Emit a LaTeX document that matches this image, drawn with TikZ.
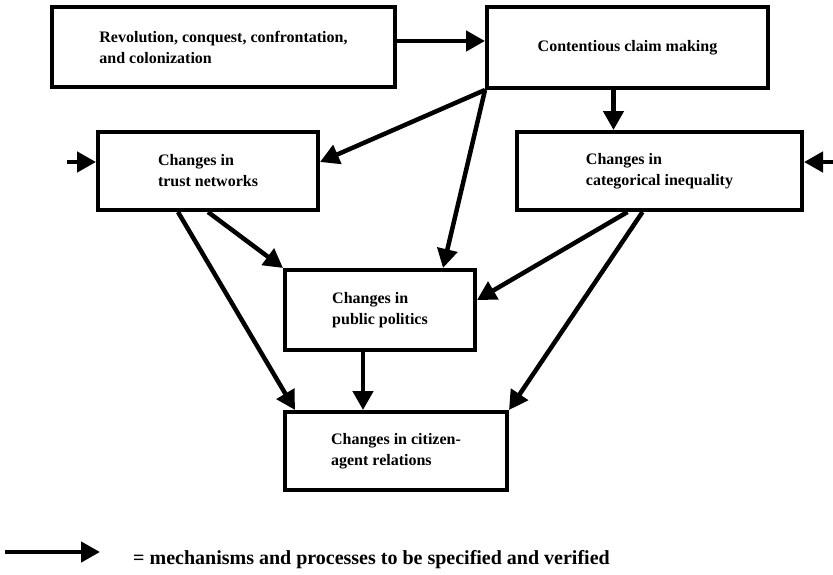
\documentclass[tikz,border=0pt]{standalone}
\usepackage{fontspec}
\setmainfont{Liberation Serif}
\usepackage{tikz}
\usetikzlibrary{arrows.meta, positioning}
\tikzstyle{box} = [rectangle, draw=black, line width=4pt, fill=white, align=left, font=\fontsize{16}{21}\selectfont\bfseries]
\tikzstyle{arrow} = [line width=4.5pt, -{Triangle[length=19pt, width=20pt]}]

\begin{document}
\begin{tikzpicture}[x=1pt, y=-1pt]
		\useasboundingbox (0,0) rectangle (833,574);
		\node (revolution) [box, minimum width=343pt, minimum height=80pt] at (223.5,47) {Revolution, conquest, confrontation,\\and colonization};
		\node (claim) [box, minimum width=281pt, minimum height=81pt] at (627.5,47.5) {Contentious claim making};
		\node (trust) [box, minimum width=220pt, minimum height=78pt] at (208,171) {Changes in\\trust networks};
		\node (inequality) [box, minimum width=285pt, minimum height=78pt] at (659.5,171) {Changes in\\categorical inequality};
		\node (politics) [box, minimum width=190pt, minimum height=80pt] at (380,310) {Changes in\\public politics};
		\node (citizen) [box, minimum width=222pt, minimum height=78pt] at (396,451) {Changes in citizen-\\agent relations};
		\coordinate (inL) at (67,162);
		\coordinate (inR) at (833,162);
		\draw [arrow] ([yshift=6pt]revolution.east) -- ([yshift=6pt]revolution.east -| claim.west);
		\draw [arrow] ([xshift=-14pt]claim.south) -- ([xshift=-14pt]claim.south |- inequality.north);
		\draw [arrow] (claim.south west) -- ([yshift=9pt]trust.east);
		\draw [arrow] (claim.south west) -- ([xshift=63pt]politics.north);
		\draw [arrow] (trust.south) -- (politics.north west);
		\draw [arrow] ([xshift=-30pt]trust.south) -- ([xshift=12pt]citizen.north west);
		\draw [arrow] ([xshift=-32pt]inequality.south) -- ([yshift=10pt]politics.east);
		\draw [arrow] ([xshift=-17pt]inequality.south) -- (citizen.north east);
		\draw [arrow] ([xshift=-17pt]politics.south) -- ([xshift=-17pt]politics.south |- citizen.north);
		\draw [arrow] (inL) -- (inL -| trust.west);
		\draw [arrow] (inR) -- (inR -| inequality.east);
		% key
		\coordinate (keyS) at (5,552);
		\coordinate (keyE) at (100,552);
		\draw [arrow] (keyS) -- (keyE);
		\node (key) [anchor=west, inner sep=0pt, font=\fontsize{20}{24}\selectfont\bfseries] at (133,560) {= mechanisms and processes to be specified and verified};
	\end{tikzpicture}
\end{document}
